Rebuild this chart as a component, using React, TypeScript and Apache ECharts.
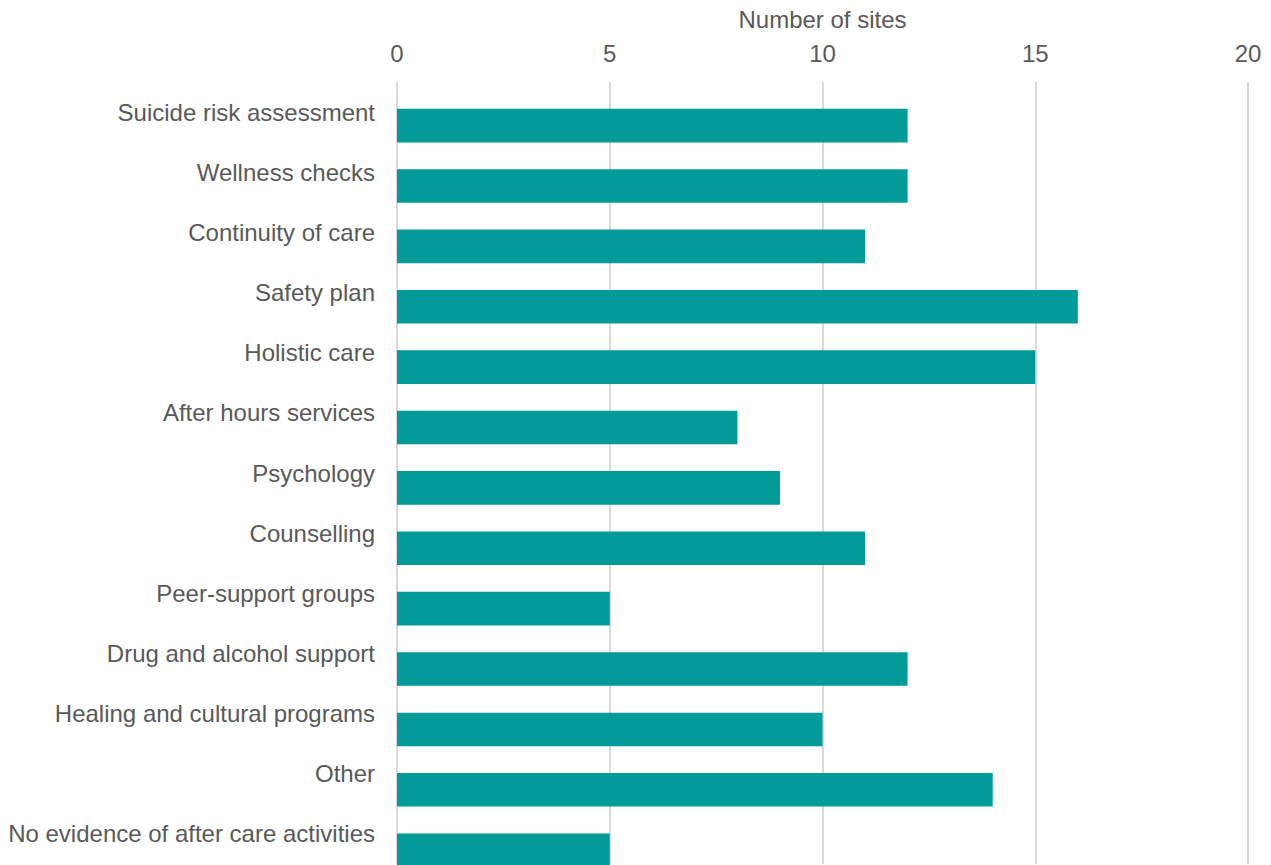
import React, { useEffect, useRef } from "react";
import * as echarts from "echarts";

const categories: string[] = [
  "Suicide risk assessment",
  "Wellness checks",
  "Continuity of care",
  "Safety plan",
  "Holistic care",
  "After hours services",
  "Psychology",
  "Counselling",
  "Peer-support groups",
  "Drug and alcohol support",
  "Healing and cultural programs",
  "Other",
  "No evidence of after care activities",
];

const sites: number[] = [12, 12, 11, 16, 15, 8, 9, 11, 5, 12, 10, 14, 5];

const xTicks = { min: 0, max: 20, interval: 5 };

const TEXT = "#595959";
const BAR = "#009a98";
const FONT = "Liberation Sans, Arial, sans-serif";

// The canvas runs past the bottom of the window, so the last bar is clipped.
const CANVAS_H = 900;

export default function App() {
  const ref = useRef<HTMLDivElement>(null);

  useEffect(() => {
    if (!ref.current) return;
    const chart = echarts.init(ref.current, undefined, { renderer: "svg" });
    const left = 397;
    const right = 23;
    const labelHeight = 782;
    const barHeight = 785;
    chart.setOption({
      animation: false,
      backgroundColor: "#ffffff",
      textStyle: { fontFamily: FONT },
      grid: [
        // axis frame: tick labels, gridlines and category labels
        { left, right, top: 82, bottom: CANVAS_H - 82 - labelHeight, containLabel: false },
        // bars sit in the lower part of each category band
        { left, right, top: 95.4, bottom: CANVAS_H - 95.4 - barHeight, containLabel: false },
      ],
      xAxis: [
        {
          type: "value",
          gridIndex: 0,
          position: "top",
          min: xTicks.min,
          max: xTicks.max,
          interval: xTicks.interval,
          name: "Number of sites",
          nameLocation: "middle",
          nameGap: 51,
          nameTextStyle: { color: TEXT, fontSize: 24, fontFamily: FONT },
          axisLine: { show: false },
          axisTick: { show: false },
          axisLabel: { color: TEXT, fontSize: 24, margin: 17, fontFamily: FONT },
          splitLine: { show: true, lineStyle: { color: "#d9d9d9", width: 2 } },
        },
        {
          type: "value",
          gridIndex: 1,
          min: xTicks.min,
          max: xTicks.max,
          interval: xTicks.interval,
          show: false,
          splitLine: { show: false },
        },
      ],
      yAxis: [
        {
          type: "category",
          gridIndex: 0,
          inverse: true,
          data: categories,
          axisLine: { show: false },
          axisTick: { show: false },
          axisLabel: { color: TEXT, fontSize: 24, margin: 22, fontFamily: FONT },
          splitLine: { show: false },
        },
        {
          type: "category",
          gridIndex: 1,
          inverse: true,
          data: categories,
          show: false,
        },
      ],
      series: [
        {
          type: "bar",
          xAxisIndex: 1,
          yAxisIndex: 1,
          data: sites,
          barWidth: 33.6,
          itemStyle: { color: BAR },
          silent: true,
        },
      ],
    });
    return () => chart.dispose();
  }, []);

  return (
    <div
      ref={ref}
      style={{ position: "fixed", left: 0, top: 0, width: 1271, height: CANVAS_H }}
    />
  );
}
